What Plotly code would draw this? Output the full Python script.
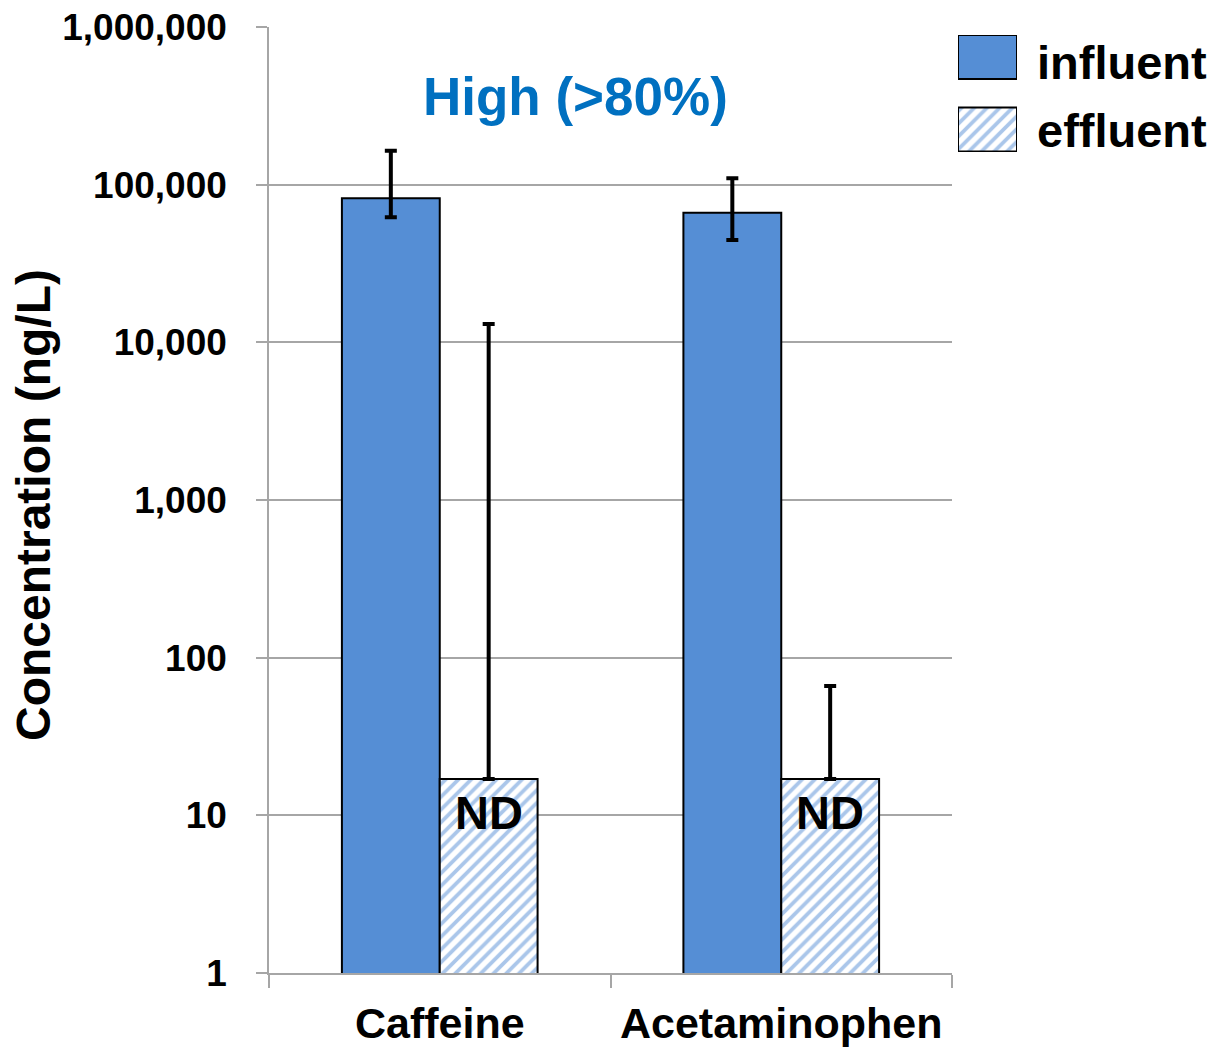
import plotly.graph_objects as go

# ---- data ----
categories = ["Caffeine", "Acetaminophen"]
influent = [81900, 66400]
influent_err_plus = [82300, 43300]
influent_err_minus = [19800, 21800]
effluent = [17, 17]
effluent_err_plus = [13050, 49]
effluent_err_minus = [0, 0]
effluent_labels = ["ND", "ND"]
y_tickvals = [1, 10, 100, 1000, 10000, 100000, 1000000]
y_ticktext = ["1", "10", "100", "1,000", "10,000", "100,000", "1,000,000"]
series_names = ["influent", "effluent"]

BLUE = "#558ED5"
FONT = "Liberation Sans, Arial, sans-serif"
GRID = "#A6A6A6"
BARGAP = 0.427

OFF = 8  # page body margin
W, H = 1215 - OFF, 1047 - OFF
ML, MT, MB = 269 - OFF, 27 - OFF, 74
PW = W - ML
PH = H - MT - MB
plot_right = 952


def px_x(px):
    return (px - OFF - ML) / PW


def px_y(py):
    return (H - MB - (py - OFF)) / PH


stripe = dict(shape="/", fgcolor=BLUE, bgcolor="white", size=9, solidity=0.42, fillmode="overlay")

fig = go.Figure()
fig.add_trace(go.Bar(
    x=categories, y=influent, name=series_names[0],
    marker=dict(color=BLUE, line=dict(color="black", width=2)),
    error_y=dict(type="data", symmetric=False, array=influent_err_plus,
                 arrayminus=influent_err_minus, color="black", thickness=4, width=6),
    showlegend=False,
))
fig.add_trace(go.Bar(
    x=categories, y=effluent, name=series_names[1],
    marker=dict(color="white", pattern=stripe, line=dict(color="black", width=2)),
    error_y=dict(type="data", symmetric=False, array=effluent_err_plus,
                 arrayminus=effluent_err_minus, color="black", thickness=4, width=6),
    showlegend=False,
))

# legend swatches drawn on an auxiliary axis pair
fig.add_trace(go.Bar(
    x=[1], y=[series_names[0]], orientation="h", width=0.607,
    marker=dict(color=BLUE, line=dict(color="black", width=2)),
    xaxis="x2", yaxis="y2", showlegend=False, hoverinfo="skip",
))
fig.add_trace(go.Bar(
    x=[1], y=[series_names[1]], orientation="h", width=0.607,
    marker=dict(color="white", pattern=stripe, line=dict(color="black", width=2)),
    xaxis="x2", yaxis="y2", showlegend=False, hoverinfo="skip",
))

# ND labels over effluent bars
offset = (1 - BARGAP) / 4
for i, lab in enumerate(effluent_labels):
    fig.add_annotation(
        x=i + offset, y=1.02, xref="x", yref="y", text=lab, showarrow=False,
        font=dict(family=FONT, size=47, color="black", weight="bold"),
        xanchor="center", yanchor="middle",
    )

# title annotation
fig.add_annotation(
    x=px_x(575), y=px_y(97), xref="paper", yref="paper", text="High (>80%)",
    showarrow=False, font=dict(family=FONT, size=53, color="#0070C0", weight="bold"),
    xanchor="center", yanchor="middle",
)

# y-axis title
fig.add_annotation(
    x=px_x(34), y=px_y(505), xref="paper", yref="paper", text="Concentration (ng/L)",
    showarrow=False, textangle=-90,
    font=dict(family=FONT, size=48, color="black", weight="bold"),
    xanchor="center", yanchor="middle",
)

# legend texts
for name, py in zip(series_names, [63, 130]):
    fig.add_annotation(
        x=px_x(1035), y=px_y(py), xref="paper", yref="paper", text=name,
        showarrow=False, font=dict(family=FONT, size=47, color="black", weight="bold"),
        xanchor="left", yanchor="middle",
    )

fig.update_layout(
    width=W, height=H,
    margin=dict(l=ML, r=0, t=MT, b=MB, pad=0),
    paper_bgcolor="white", plot_bgcolor="white",
    barmode="group", bargap=BARGAP, bargroupgap=0,
    font=dict(family=FONT, color="black"),
    xaxis=dict(
        domain=[0, px_x(plot_right)],
        type="category", showgrid=False, showline=True, linecolor=GRID, linewidth=1.5,
        ticks="outside", tickson="boundaries", ticklen=13, tickcolor=GRID, tickwidth=1.5,
        tickfont=dict(family=FONT, size=43, color="black", weight="bold"),
        ticklabelstandoff=12, zeroline=False,
    ),
    yaxis=dict(
        type="log", range=[0, 6],
        tickvals=y_tickvals, ticktext=y_ticktext,
        showgrid=True, gridcolor=GRID, gridwidth=1.5,
        showline=True, linecolor=GRID, linewidth=1.5,
        ticks="outside", ticklen=11, tickcolor=GRID, tickwidth=1.5,
        tickfont=dict(family=FONT, size=37, color="black", weight="bold"),
        ticklabelstandoff=22, ticklabeloverflow="allow", zeroline=False,
    ),
    xaxis2=dict(
        domain=[px_x(958), px_x(1017)], range=[0, 1], anchor="y2",
        visible=False, fixedrange=True,
    ),
    yaxis2=dict(
        domain=[px_y(152), px_y(35)], range=[-0.3103, 1.3034], anchor="x2",
        type="category", categoryorder="array", categoryarray=[series_names[1], series_names[0]],
        visible=False, fixedrange=True,
    ),
)

fig.write_html("out.html")
